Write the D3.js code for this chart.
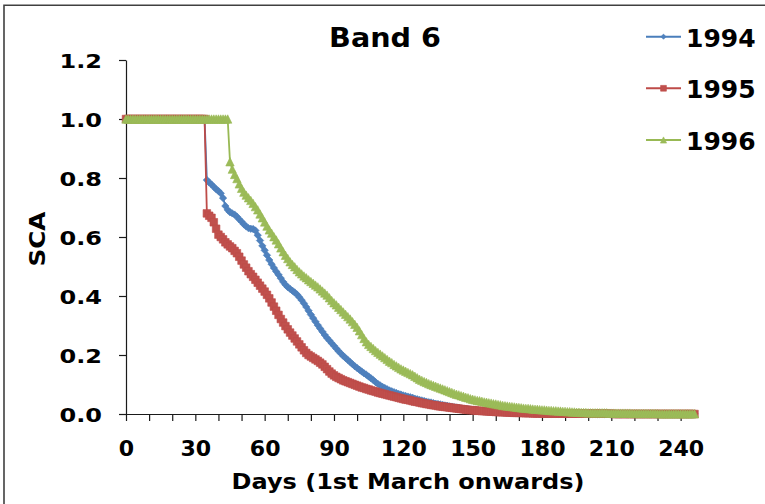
<!DOCTYPE html>
<html><head><meta charset="utf-8">
<script src="https://cdn.jsdelivr.net/npm/d3@7"></script>
<style>
html,body{margin:0;padding:0;background:#fff;}
svg{display:block;}
text{font-family:"DejaVu Sans",sans-serif;font-weight:bold;fill:#000;}
</style>
</head><body>
<svg id="c" width="765" height="504"></svg>
<script>
// ---------- data (one value per day, day 0 = 1st March) ----------
const seriesNames = ["1994", "1995", "1996"];

const sca1994 = [
  1,1,1,1,1,1,1,1,1,1, 1,1,1,1,1,1,1,1,1,1, 1,1,1,1,1,1,1,1,1,1, 1,1,1,1,1,
  0.793,0.785,0.778,0.770,0.762,0.756,0.748,0.732,0.705,0.692,0.684,0.680,0.676,0.669,0.660,0.652,0.643,0.636,0.630,0.628,0.627,0.622,
  0.606,0.588,0.570,0.555,0.538,0.522,
  0.508,0.495,0.483,0.472,0.460,0.448,0.438,0.430,0.424,0.418,0.412,0.405,0.396,0.386,
  0.375,0.363,0.350,0.337,0.325,0.313,0.301,0.290,0.279,0.268,0.258,0.249,0.240,0.231,0.222,0.213,0.205,0.197,0.190,0.183,0.176,0.169,0.162,0.156,
  0.150,0.144,0.138,0.133,0.127,0.121,0.115,0.108,0.102,0.097,
  0.092,0.088,0.084,0.080,0.077,0.074,0.071,0.068,0.066,0.063,
  0.061,0.059,0.057,0.055,0.052,0.050,0.048,0.046,0.044,0.042,
  0.040,0.039,0.037,0.035,0.034,0.032,0.031,0.029,0.028,0.026,
  0.025,0.023,0.022,0.021,0.019,0.018,0.017,0.016,0.015,0.014,
  0.013,0.012,0.011,0.010,0.010,0.009,0.008,0.008,0.007,0.007,0.006,0.006,0.005,0.005,0.005,
  0.004,0.004,0.004,0.003,0.003,0.003,0.003,0.002,0.002,0.002,0.002,0.002,0.002,0.001,0.001,
  0.001,0.001,0.001,0.001,0.001,0.001,0.001,0.001,0.001,0.001,
  0.001,0.001,0.001,0.001,0.001,0.001,0.001,0.001,0.001,0.001,
  0,0,0,0,0,0,0,0,0,0, 0,0,0,0,0,0,0,0,0,0, 0,0,0,0,0,0,0,0,0,0, 0,0,0,0,0,0,0,0,0,0, 0,0,0,0,0,0
];

const sca1995 = [
  1,1,1,1,1,1,1,1,1,1, 1,1,1,1,1,1,1,1,1,1, 1,1,1,1,1,1,1,1,1,1, 1,1,1,1,1,
  0.680,0.672,0.665,0.650,0.628,0.608,0.600,0.592,0.582,0.575,0.568,0.562,0.553,0.545,0.533,0.520,0.507,0.496,0.484,0.474,0.465,0.455,0.445,0.435,0.425,0.415,0.404,0.392,
  0.378,0.364,0.350,0.336,0.322,0.310,0.298,0.287,0.276,0.266,0.256,0.246,0.236,0.226,0.216,0.207,0.200,0.195,
  0.190,0.185,0.180,0.174,0.168,0.160,0.152,0.144,0.137,0.131,0.126,0.122,0.118,0.114,0.111,0.108,0.105,0.102,0.099,0.096,
  0.093,0.090,0.088,0.085,0.083,0.080,0.078,0.076,0.073,0.071,
  0.069,0.067,0.065,0.063,0.061,0.059,0.057,0.055,0.053,0.051,
  0.049,0.048,0.046,0.044,0.042,0.041,0.039,0.037,0.036,0.034,
  0.033,0.031,0.030,0.029,0.027,0.026,0.025,0.024,0.023,0.022,
  0.021,0.020,0.019,0.018,0.017,0.016,0.015,0.014,0.013,0.013,
  0.012,0.011,0.011,0.010,0.010,0.009,0.009,0.008,0.008,0.007,0.007,0.006,0.006,0.006,0.005,
  0.005,0.005,0.004,0.004,0.004,0.004,0.003,0.003,0.003,0.003,0.002,0.002,0.002,0.002,0.002,
  0.001,0.001,0.001,0.001,0.001,0.001,0.001,0.001,0.001,0.001,
  0.001,0.001,0.001,0.001,0.001,0.001,0.001,0.001,0.001,0.001,
  0.001,0.001,0.001,0.001,0.001,0.001,0.001,0.001,0.001,0.001,
  0,0,0,0,0,0,0,0,0,0, 0,0,0,0,0,0,0,0,0,0, 0,0,0,0,0,0,0,0,0,0, 0,0,0,0,0,0
];

const sca1996 = [
  1,1,1,1,1,1,1,1,1,1, 1,1,1,1,1,1,1,1,1,1, 1,1,1,1,1,1,1,1,1,1, 1,1,1,1,1,1,1,1,1,1, 1,1,1,1,1,
  0.855,0.830,0.812,0.798,0.780,0.765,0.752,0.742,0.733,0.724,0.714,0.703,0.692,0.678,0.665,0.651,0.637,0.624,
  0.613,0.601,0.590,0.577,0.563,0.550,0.538,0.527,0.516,0.507,0.499,0.490,0.482,0.475,0.468,0.462,0.455,0.449,
  0.443,0.437,0.431,0.424,0.417,0.410,0.403,0.394,0.385,0.377,0.370,0.362,0.354,0.346,0.338,0.330,0.322,0.313,0.304,0.294,
  0.282,0.269,0.256,0.245,0.236,0.229,0.222,0.215,0.209,0.203,
  0.197,0.191,0.185,0.179,0.174,0.168,0.163,0.158,0.153,0.149,
  0.145,0.141,0.137,0.133,0.128,0.123,0.118,0.114,0.110,0.107,
  0.103,0.100,0.097,0.094,0.091,0.088,0.085,0.082,0.079,0.076,
  0.073,0.070,0.067,0.065,0.062,0.060,0.057,0.055,0.052,0.050,
  0.048,0.046,0.045,0.043,0.041,0.040,0.038,0.037,0.035,0.034,0.032,0.031,0.029,0.028,0.027,
  0.026,0.025,0.024,0.023,0.022,0.021,0.020,0.019,0.019,0.018,0.017,0.016,0.016,0.015,0.014,
  0.014,0.013,0.012,0.012,0.011,0.011,0.010,0.010,0.009,0.009,
  0.008,0.008,0.007,0.007,0.006,0.006,0.005,0.005,0.005,0.004,
  0.004,0.004,0.004,0.004,0.004,0.004,0.004,0.004,
  0.003,0.003,0.003,0.003,0.003,0.003,0.003,0.003,0.003,0.003,
  0.002,0.002,0.002,0.002,0.002,0.002,0.002,0.002,0.002,0.002,0.002,0.002,
  0.001,0.001,0.001,0.001,0.001,0.001,0.001,0.001,0.001,0.001,0.001,0.001,0.001,0.001,0.001,0.001
];

const xMajorTicks = [0, 30, 60, 90, 120, 150, 180, 210, 240];
const xMinorTicks = [0,10,20,30,40,50,60,70,80,90,100,110,120,130,140,150,160,170,180,190,200,210,220,230,240];
const yTicks = [0, 0.2, 0.4, 0.6, 0.8, 1.0, 1.2];
const chartTitle = "Band 6";
const xTitle = "Days (1st March onwards)";
const yTitle = "SCA";

// ---------- styles ----------
const lineColors = ["#4A7EBB", "#BE4B48", "#98B954"];
const fillColors = ["#4F81BD", "#C0504D", "#9BBB59"];
const markerKinds = ["diamond", "square", "triangle"];
function markerPath(kind, r) {
  if (kind === "diamond") return `M0,${-r}L${r},0L0,${r}L${-r},0Z`;
  if (kind === "square") return `M${-r},${-r}H${r}V${r}H${-r}Z`;
  return `M0,${-r}L${r},${r}L${-r},${r}Z`;
}

const svg = d3.select("#c");
svg.append("rect").attr("width", 765).attr("height", 504).attr("fill", "#fff");
// outer frame
svg.append("path").attr("d", "M4,504V5.3H765").attr("fill", "none")
  .attr("stroke", "#404040").attr("stroke-width", 1.6);

const x = d3.scaleLinear().domain([0, 247]).range([126, 696.8]);
const y = d3.scaleLinear().domain([0, 1.2]).range([414, 60]);

function stretchTexts(sel, sx) {
  sel.each(function () {
    const t = d3.select(this);
    const xx = +t.attr("x") || 0, yy = +t.attr("y") || 0;
    t.attr("x", 0).attr("y", 0).attr("transform", `translate(${xx},${yy}) scale(${sx},1)`);
  });
}

// y axis
const gy = svg.append("g").attr("transform", `translate(${x(0)},0)`)
  .call(d3.axisLeft(y).tickValues(yTicks).tickFormat(d3.format(".1f"))
    .tickSize(7).tickSizeOuter(0).tickPadding(17));
gy.selectAll("path,line").attr("stroke", "#1a1a1a").attr("stroke-width", 1.2);
gy.selectAll("text").style("font-size", "20px").style("font-family", "DejaVu Sans")
  .style("font-weight", "bold").attr("fill", "#000").attr("dy", "0.37em");
stretchTexts(gy.selectAll("text"), 1.2);

// x axis
const gx = svg.append("g").attr("transform", `translate(0,${y(0)})`)
  .call(d3.axisBottom(x).tickValues(xMinorTicks)
    .tickFormat(d => xMajorTicks.includes(d) ? String(d) : "")
    .tickSize(7).tickSizeOuter(0).tickPadding(20));
gx.selectAll("path,line").attr("stroke", "#1a1a1a").attr("stroke-width", 1.2);
gx.selectAll("text").style("font-size", "21px").style("font-family", "DejaVu Sans")
  .style("font-weight", "bold").attr("fill", "#000");
stretchTexts(gx.selectAll("text"), 1.05);

// series
const allSeries = [sca1994, sca1995, sca1996];
const markerSizes = [3.7, 3.8, 4.2];
allSeries.forEach((vals, s) => {
  const g = svg.append("g");
  const line = d3.line().x((d, i) => x(i)).y(d => y(d));
  g.append("path").attr("d", line(vals)).attr("fill", "none")
    .attr("stroke", lineColors[s]).attr("stroke-width", 1.8);
  g.selectAll("path.m").data(vals).join("path").attr("class", "m")
    .attr("d", markerPath(markerKinds[s], markerSizes[s]))
    .attr("transform", (d, i) => `translate(${x(i)},${y(d)})`)
    .attr("fill", fillColors[s]).attr("stroke", lineColors[s]).attr("stroke-width", 0.6);
});

// title
svg.append("text").attr("text-anchor", "middle")
  .attr("transform", "translate(385,47) scale(1.1,1)")
  .style("font-size", "26px").text(chartTitle);

// axis titles
svg.append("text").attr("text-anchor", "middle")
  .attr("transform", "translate(408,488.5) scale(1.17,1)")
  .style("font-size", "20.5px").text(xTitle);
svg.append("text").attr("text-anchor", "middle")
  .attr("transform", "translate(45,239) rotate(-90) scale(1.2,1)")
  .style("font-size", "20.5px").text(yTitle);

// legend
const legendY = [36.7, 88.3, 140];
const legendMarkerSizes = [2.6, 2.9, 3.1];
seriesNames.forEach((name, s) => {
  const g = svg.append("g").attr("transform", `translate(0,${legendY[s]})`);
  g.append("line").attr("x1", 646).attr("x2", 681).attr("y1", 0).attr("y2", 0)
    .attr("stroke", lineColors[s]).attr("stroke-width", 2);
  g.append("path").attr("d", markerPath(markerKinds[s], legendMarkerSizes[s]))
    .attr("transform", "translate(663.5,0)")
    .attr("fill", fillColors[s]).attr("stroke", lineColors[s]).attr("stroke-width", 0.6);
  g.append("text").attr("x", 686).attr("y", 10).style("font-size", "25px").text(name);
});
</script>
</body></html>
